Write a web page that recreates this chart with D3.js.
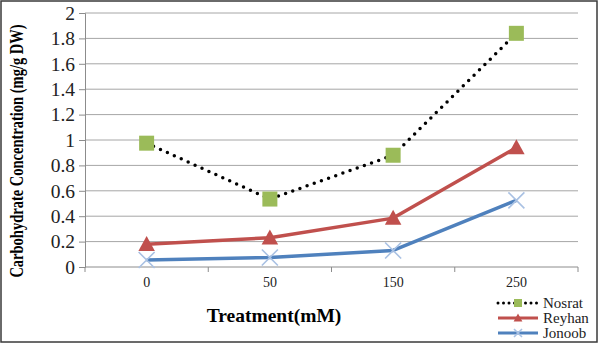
<!DOCTYPE html>
<html>
<head>
<meta charset="utf-8">
<script src="https://cdn.jsdelivr.net/npm/d3@7"></script>
<style>
  body { margin:0; background:#fff; }
</style>
</head>
<body>
<div id="chart"></div>
<script>
// data
const treatments = ["0","50","150","250"]
const nosrat = [0.975, 0.535, 0.88, 1.84]
const reyhan = [0.18, 0.23, 0.385, 0.94]
const jonoob = [0.055, 0.075, 0.13, 0.525]
const yTicks = [0,0.2,0.4,0.6,0.8,1,1.2,1.4,1.6,1.8,2]

const series = [
    {name:"Nosrat", values:nosrat, line:"#000", marker:"square", mcolor:"#9bbb59", dotted:true},
    {name:"Reyhan", values:reyhan, line:"#c0504d", marker:"triangle", mcolor:"#c0504d"},
    {name:"Jonoob", values:jonoob, line:"#4f81bd", marker:"cross", mcolor:"#a9c1e3"}
]

const FONT = "'Liberation Serif'"
const W = 600, H = 344
const margin = {top:13, right:22, bottom:77, left:85}
const width = W - margin.left - margin.right
const height = H - margin.top - margin.bottom

const root = d3.select("#chart").append("svg")
    .attr("width",W).attr("height",H)

// outer frame
root.append("rect")
    .attr("x",1).attr("y",1).attr("width",596).attr("height",341)
    .attr("fill","none").attr("stroke","#3a3a3a").attr("stroke-width",1.5)

const svg = root.append("g")
    .attr("transform",`translate(${margin.left},${margin.top})`)

const x = d3.scaleBand().domain(treatments).range([0,width])
const y = d3.scaleLinear().domain([0,2]).range([height,0])

// gridlines
svg.append("g").selectAll("line")
    .data(yTicks.slice(1))
    .join("line")
    .attr("x1",0).attr("x2",width)
    .attr("y1",d=>y(d)).attr("y2",d=>y(d))
    .attr("stroke","#a6a6a6").attr("stroke-width",1)

// y axis
const yAxis = svg.append("g")
    .call(d3.axisLeft(y).tickValues(yTicks).tickFormat(d=>String(+d.toFixed(1))).tickSize(6).tickPadding(4))
yAxis.select(".domain").attr("stroke","#8c8c8c")
yAxis.selectAll(".tick line").attr("stroke","#8c8c8c")
yAxis.selectAll("text")
    .style("font-family",FONT).style("font-size","19.5px").attr("fill","#222")

// x axis: ticks at band edges
const xg = svg.append("g").attr("transform",`translate(0,${height})`)
xg.append("line").attr("x1",0).attr("x2",width).attr("stroke","#8c8c8c")
xg.selectAll(".xt")
    .data(treatments.map((d,i)=>i).concat([treatments.length]))
    .join("line").attr("class","xt")
    .attr("x1",i=>i*x.step()).attr("x2",i=>i*x.step())
    .attr("y1",0).attr("y2",5).attr("stroke","#8c8c8c")
xg.selectAll("text")
    .data(treatments)
    .join("text")
    .attr("x",d=>x(d)+x.bandwidth()/2)
    .attr("y",20)
    .attr("text-anchor","middle")
    .style("font-family",FONT).style("font-size","14px").attr("fill","#222")
    .text(d=>d)

// titles
root.append("text")
    .attr("x",274).attr("y",322)
    .attr("text-anchor","middle")
    .style("font-family",FONT).style("font-size","19.5px").style("font-weight","bold")
    .text("Treatment(mM)")

root.append("g")
    .attr("transform","translate(23,151) rotate(-90) scale(1,1.25)")
    .append("text")
    .attr("text-anchor","middle")
    .style("font-family",FONT).style("font-size","14.5px").style("font-weight","bold")
    .text("Carbohydrate Concentration (mg/g DW)")

const line = d3.line()
    .x((d,i)=>x(treatments[i])+x.bandwidth()/2)
    .y(d=>y(d))

function drawMarker(g, type, color, s){
    if(type=="square"){
        g.append("rect").attr("x",-s/2).attr("y",-s/2).attr("width",s).attr("height",s)
            .attr("fill",color)
    } else if(type=="triangle"){
        g.append("path")
            .attr("d",`M0,${-s*0.55}L${s*0.55},${s*0.45}L${-s*0.55},${s*0.45}Z`)
            .attr("fill",color)
    } else {
        const h = s/2
        g.append("path")
            .attr("d",`M${-h},${-h}L${h},${h}M${-h},${h}L${h},${-h}`)
            .attr("stroke",color).attr("stroke-width",1.6).attr("fill","none")
    }
}

// lines + markers
series.forEach(s=>{
    const p = svg.append("path")
        .datum(s.values)
        .attr("d",line)
        .attr("fill","none")
        .attr("stroke",s.line)
    if(s.dotted){
        p.attr("stroke-width",3.5).attr("stroke-dasharray","0 7.6").attr("stroke-linecap","round")
    } else {
        p.attr("stroke-width",3.5).attr("stroke-linejoin","round")
    }
})
series.forEach(s=>{
    s.values.forEach((v,i)=>{
        const g = svg.append("g")
            .attr("transform",`translate(${x(treatments[i])+x.bandwidth()/2},${y(v)})`)
        drawMarker(g, s.marker, s.mcolor, s.marker=="cross" ? 16 : 15)
    })
})

// legend
const legend = root.append("g").attr("transform","translate(498,303)")
series.forEach((s,i)=>{
    const row = legend.append("g").attr("transform",`translate(0,${i*15})`)
    const l = row.append("line").attr("x1",0).attr("x2",40)
        .attr("stroke",s.line)
    if(s.dotted){
        l.attr("stroke-width",3).attr("stroke-dasharray","0 5.5").attr("stroke-linecap","round")
    } else {
        l.attr("stroke-width",3)
    }
    const m = row.append("g").attr("transform","translate(20,0)")
    drawMarker(m, s.marker, s.mcolor, 8)
    row.append("text").attr("x",45).attr("y",5)
        .style("font-family",FONT).style("font-size","15px").attr("fill","#222")
        .text(s.name)
})
</script>
</body>
</html>
